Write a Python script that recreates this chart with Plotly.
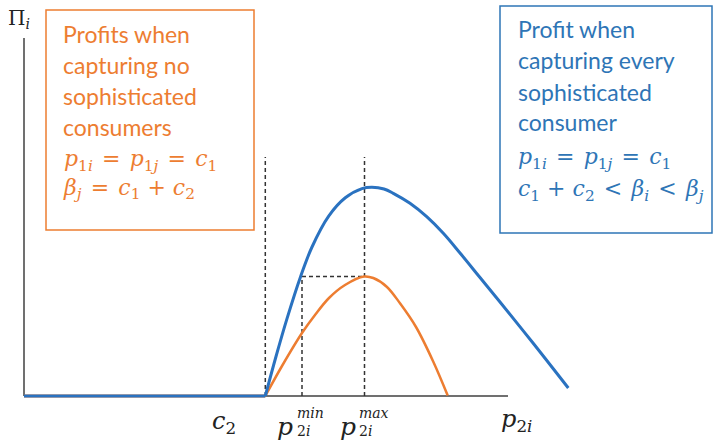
import plotly.graph_objects as go

# ---- data (diagram units: x = price p2i, y = profit Pi_i) ----
flat_x = [0, 241.3]
flat_y = [0, 0]

blue_x = [241.3, 252, 263, 276.3, 288, 304.7, 321.3, 338, 348, 360, 369.3, 386, 402.7, 419.3, 436, 456, 476, 509, 544.3]
blue_y = [0, 39.5, 77.4, 118.6, 149, 179.9, 198.2, 207.4, 208.7, 207, 202.7, 192.7, 179.3, 162.7, 143, 118.5, 94, 53, 8]

orange_x = [241.3, 258, 278, 291, 305, 321, 340, 349.3, 362.7, 376, 392, 409.3, 423.7]
orange_y = [0, 30, 63, 81, 98, 111, 119.5, 118, 109.3, 92.7, 69, 34.3, 0.5]

kink_x = 241.3
p2i_min_x = 278
p2i_max_x = 340.5
orange_peak_y = 119.5
guide_top_y = 239
axis_x_end = 484
axis_y_end = 358

BLUE = "#2a72c0"
ORANGE = "#ED7D31"
BLUE_TXT = "#2E75B6"
AX = "#404040"
SANS = "Lato"
SERIF = "DejaVu Serif"

fig = go.Figure()

fig.add_trace(go.Scatter(x=flat_x, y=flat_y, mode="lines",
                         line=dict(color=ORANGE, width=3), hoverinfo="skip", showlegend=False))
fig.add_trace(go.Scatter(x=orange_x, y=orange_y, mode="lines",
                         line=dict(color=ORANGE, width=2.5, shape="spline", smoothing=1),
                         hoverinfo="skip", showlegend=False, cliponaxis=False))
fig.add_trace(go.Scatter(x=flat_x, y=flat_y, mode="lines",
                         line=dict(color=BLUE, width=3), hoverinfo="skip", showlegend=False))
fig.add_trace(go.Scatter(x=blue_x, y=blue_y, mode="lines",
                         line=dict(color=BLUE, width=3, shape="spline", smoothing=1),
                         hoverinfo="skip", showlegend=False, cliponaxis=False))

shapes = []
shapes.append(dict(type="line", x0=0, y0=0, x1=axis_x_end, y1=0, line=dict(color=AX, width=1.5), layer="below"))
shapes.append(dict(type="line", x0=0, y0=0, x1=0, y1=axis_y_end, line=dict(color=AX, width=1.5), layer="below"))
dash = dict(color="#333333", width=1.5, dash="4px,3px")
shapes.append(dict(type="line", x0=kink_x, y0=0, x1=kink_x, y1=guide_top_y, line=dash, layer="below"))
shapes.append(dict(type="line", x0=p2i_max_x, y0=0, x1=p2i_max_x, y1=guide_top_y, line=dash, layer="below"))
shapes.append(dict(type="line", x0=p2i_min_x, y0=0, x1=p2i_min_x, y1=orange_peak_y, line=dash, layer="below"))
shapes.append(dict(type="line", x0=p2i_min_x, y0=orange_peak_y, x1=p2i_max_x, y1=orange_peak_y, line=dash, layer="below"))
# text boxes  (px -> diagram: x = px-24, y = 396-py)
shapes.append(dict(type="rect", x0=46-24, y0=396-10, x1=254-24, y1=396-230, line=dict(color=ORANGE, width=1.5)))
shapes.append(dict(type="rect", x0=500-24, y0=396-6, x1=712-24, y1=396-233, line=dict(color=BLUE_TXT, width=1.5)))

ann = []
def A(px, py, text, size, color, family, xanchor="center"):
    ann.append(dict(x=px-24, y=396-py, text=text, showarrow=False, xanchor=xanchor, yanchor="middle",
                    align="left", font=dict(size=size, color=color, family=family), borderpad=0))

HS = "\u200a"
K = "#222222"
A(19, 19, "Π<sub><i>i</i></sub>", 20, K, SERIF)
A(224, 422, "<i>c</i><sub>2</sub>", 24, K, SERIF)
A(285, 426, "<i>p</i>", 25, K, SERIF)
A(296, 413, "<i>min</i>", 14, K, SERIF, "left")
A(296, 431, "2<i>i</i>", 14, K, SERIF, "left")
A(348, 426, "<i>p</i>", 25, K, SERIF)
A(358, 413, "<i>max</i>", 14, K, SERIF, "left")
A(358, 431, "2<i>i</i>", 14, K, SERIF, "left")
A(516, 420, "<i>p</i><sub>2<i>i</i></sub>", 24, K, SERIF)

eq1 = f"<i>p</i><sub>1<i>i</i></sub> {HS}={HS} <i>p</i><sub>1<i>j</i></sub> {HS}={HS} <i>c</i><sub>1</sub>"
eq2 = f"<i>β</i><sub><i>j</i></sub> {HS}={HS} <i>c</i><sub>1</sub> + <i>c</i><sub>2</sub>"
eq3 = (f"<i>c</i><sub>1</sub> + <i>c</i><sub>2</sub> {HS}&lt;{HS} <i>β</i><sub><i>i</i></sub>"
       f" {HS}&lt;{HS} <i>β</i><sub><i>j</i></sub>")

for py, t in [(34, "Profits when"), (65, "capturing no"), (96, "sophisticated"), (127, "consumers")]:
    A(62, py, t, 23, ORANGE, SANS, "left")
A(62, 174, eq1 + "<br>" + eq2, 22, ORANGE, SERIF, "left")

for py, t in [(29, "Profit when"), (60, "capturing every"), (92, "sophisticated"), (122, "consumer")]:
    A(517, py, t, 23, BLUE_TXT, SANS, "left")
A(517, 158, eq1, 22, BLUE_TXT, SERIF, "left")
A(517, 190, eq3, 22, BLUE_TXT, SERIF, "left")

fig.update_layout(
    width=714, height=441,
    margin=dict(l=0, r=0, t=0, b=0),
    paper_bgcolor="white", plot_bgcolor="white",
    xaxis=dict(range=[-24, 690], visible=False, fixedrange=True),
    yaxis=dict(range=[-45, 396], visible=False, fixedrange=True),
    shapes=shapes, annotations=ann, showlegend=False,
)
fig.write_html("out.html", post_script="document.body.style.margin='0';",
               config={"displayModeBar": False})
